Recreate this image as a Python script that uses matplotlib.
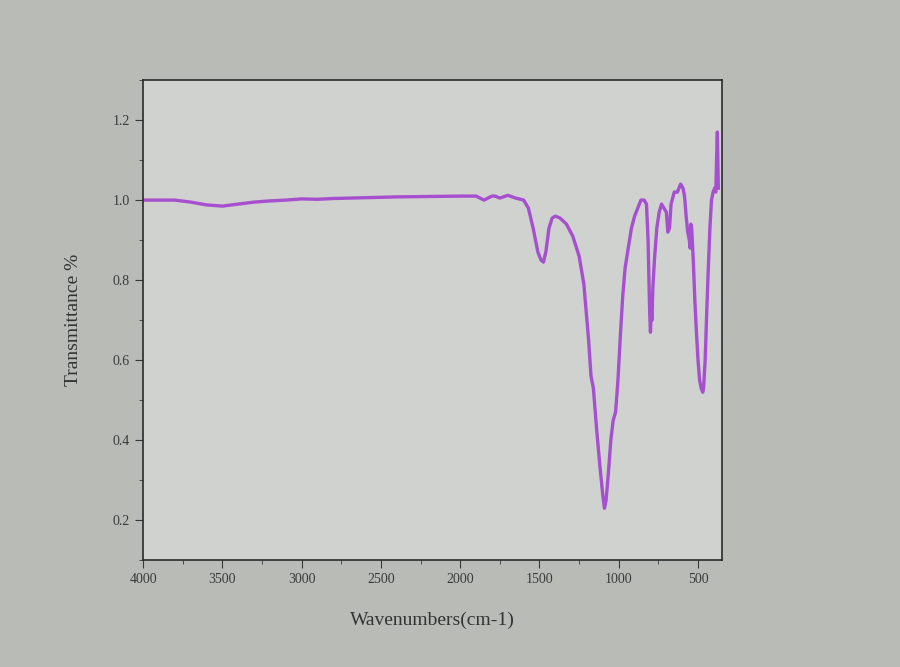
import matplotlib.pyplot as plt
from matplotlib.ticker import MultipleLocator

# FTIR spectrum (wavenumber in cm-1, transmittance)
wavenumber = [4000, 3900, 3800, 3700, 3600, 3500, 3400, 3300, 3200, 3100,
              3000, 2900, 2800, 2600, 2400, 2200, 2000, 1900, 1850, 1800,
              1780, 1750, 1700, 1650, 1600, 1570, 1540, 1510, 1490, 1475,
              1460, 1440, 1420, 1400, 1370, 1330, 1290, 1250, 1220, 1190,
              1175, 1160, 1140, 1120, 1100, 1090, 1080, 1065, 1050, 1035,
              1020, 1005, 990, 975, 960, 940, 920, 900, 880, 860,
              840, 825, 815, 805, 800, 795, 790, 785, 775, 760,
              745, 730, 715, 700, 690, 680, 670, 650, 630, 610,
              595, 585, 575, 565, 555, 550, 545, 540, 530, 520,
              510, 500, 490, 480, 470, 465, 455, 445, 435, 425,
              415, 405, 395, 388, 383, 378, 375, 372]
transmittance = [1.0, 1.0, 1.0, 0.995, 0.988, 0.985, 0.99, 0.995, 0.998, 1.0,
                 1.003, 1.002, 1.004, 1.006, 1.008, 1.009, 1.01, 1.01, 1.0, 1.01,
                 1.01, 1.005, 1.012, 1.005, 1.0, 0.98, 0.93, 0.87, 0.85, 0.845,
                 0.87, 0.93, 0.955, 0.96, 0.955, 0.94, 0.91, 0.86, 0.79, 0.65,
                 0.56, 0.53, 0.43, 0.34, 0.26, 0.23, 0.25, 0.32, 0.40, 0.45,
                 0.47, 0.55, 0.66, 0.76, 0.83, 0.88, 0.93, 0.96, 0.98, 1.0,
                 1.0, 0.99, 0.9, 0.72, 0.67, 0.72, 0.70, 0.78, 0.85, 0.93,
                 0.97, 0.99, 0.98, 0.97, 0.92, 0.93, 0.99, 1.02, 1.02, 1.04,
                 1.03, 1.01, 0.96, 0.92, 0.90, 0.88, 0.94, 0.93, 0.85, 0.75,
                 0.67, 0.60, 0.55, 0.53, 0.52, 0.53, 0.60, 0.72, 0.83, 0.93,
                 1.0, 1.02, 1.03, 1.02, 1.10, 1.17, 1.10, 1.03]

plt.rcParams['font.family'] = ['Liberation Serif', 'DejaVu Serif']

fig = plt.figure(figsize=(9, 6.67), dpi=100, facecolor='#b9bbb7')
ax = fig.add_axes([0.159, 0.160, 0.643, 0.720])
ax.set_facecolor('#cfd2ce')

ax.plot(wavenumber, transmittance, color='#a64fcf', linewidth=2.4)

ax.set_xlim(4000, 350)
ax.set_ylim(0.1, 1.3)
ax.xaxis.set_major_locator(MultipleLocator(500))
ax.xaxis.set_minor_locator(MultipleLocator(250))
ax.yaxis.set_major_locator(MultipleLocator(0.2))
ax.yaxis.set_minor_locator(MultipleLocator(0.1))
ax.set_yticks([0.2, 0.4, 0.6, 0.8, 1.0, 1.2])
ax.tick_params(which='both', direction='out', colors='#3a3a3a', labelsize=10)
ax.tick_params(which='major', length=6)
ax.tick_params(which='minor', length=3)

for s in ax.spines.values():
    s.set_color('#2a2a2a')
    s.set_linewidth(1.2)

ax.set_xlabel('Wavenumbers(cm-1)', fontsize=14, color='#333333', labelpad=18)
ax.set_ylabel('Transmittance %', fontsize=14, color='#333333', labelpad=22)

fig.savefig('out.png', dpi=100, facecolor=fig.get_facecolor())
